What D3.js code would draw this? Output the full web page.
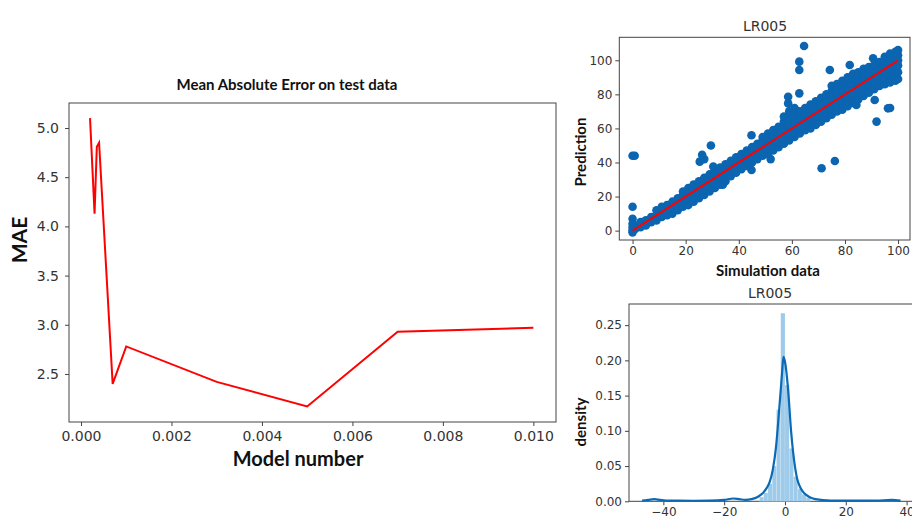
<!DOCTYPE html>
<html lang="en">
<head>
<meta charset="UTF-8">
<title>MAE and LR005</title>
<script src="https://d3js.org/d3.v7.min.js"></script>
<style>
    body { margin: 0; background: #fff; }
    svg { display: block; }
    .tick text { font-family: "DejaVu Sans", sans-serif; fill: #333; }
    .tick line { stroke: #444; }
    .frame { fill: none; stroke: #444; stroke-width: 1; }
    .lbl { font-family: Lato, "Open Sans", sans-serif; font-weight: bold; fill: #111; }
</style>
</head>
<body>
<div id="chart"></div>
<script>
// --- left chart: MAE per model ---
const modelNumbers = [0.0002, 0.0003, 0.00035, 0.0004, 0.0007, 0.001, 0.003, 0.005, 0.007, 0.01];
const maeValues = [5.10, 4.13, 4.81, 4.85, 2.40, 2.78, 2.42, 2.17, 2.93, 2.97];
const maeXTicks = [0, 0.002, 0.004, 0.006, 0.008, 0.010];
const maeYTicks = [2.5, 3.0, 3.5, 4.0, 4.5, 5.0];

// --- top right: prediction vs simulation (columns of points) ---
const scatterColumns = [
    [1, [1, 3]], [3, [2, 5]], [5, [3, 6]], [7, [5, 8]], [9, [6, 9, 12]],
    [11, [8, 11, 14]], [13, [9, 12, 15]], [15, [10, 13, 17]], [17, [12, 15, 19]],
    [19, [14, 17, 21, 23]], [21, [15, 19, 22, 25]], [23, [17, 20, 24, 27]],
    [25, [19, 22, 26, 29]], [27, [21, 24, 28, 31]], [29, [23, 26, 30, 33]],
    [31, [25, 28, 32, 35]], [33, [27, 30, 34, 37]], [35, [29, 33, 36, 39]],
    [37, [32, 35, 38, 41]], [39, [34, 37, 40, 43]], [41, [36, 39, 42, 45]],
    [43, [38, 41, 44, 47]], [45, [40, 43, 46, 49]], [47, [42, 45, 48, 51]],
    [49, [44, 47, 50, 53, 55]], [51, [45, 48, 51, 54, 57]], [53, [47, 50, 53, 56, 59]],
    [55, [49, 52, 55, 58, 61]], [57, [51, 54, 57, 60, 64, 67]], [59, [53, 56, 59, 62, 66, 70]],
    [61, [55, 58, 61, 64, 68, 72]], [63, [57, 60, 63, 66, 70]], [65, [59, 62, 65, 68, 72]],
    [67, [60, 63, 66, 70, 74]], [69, [62, 65, 69, 72, 76]], [71, [64, 67, 71, 74, 78]],
    [73, [66, 69, 73, 76, 80]], [75, [68, 71, 75, 78, 82, 85]], [77, [70, 73, 77, 80, 84, 86]],
    [79, [71, 75, 79, 82, 86, 88]], [81, [73, 77, 81, 84, 88, 90]], [83, [75, 79, 83, 86, 90, 92]],
    [85, [77, 81, 85, 88, 91, 93]], [87, [79, 83, 87, 90, 93, 95]], [89, [81, 85, 89, 92, 95, 96]],
    [91, [83, 87, 91, 94, 97]], [93, [85, 89, 93, 96, 99]], [95, [86, 90, 94, 97, 100, 102]],
    [97, [87, 91, 95, 98, 101, 104]], [99, [88, 92, 96, 99, 102, 105]], [100, [89, 93, 97, 100, 103, 106]]
];
const scatterOutliers = [
    [0, 44], [0.8, 44], [0, 14], [0, 7], [0, 4], [0, 2], [0, 0], [0, -1],
    [29.5, 50], [26.2, 44.5], [25.3, 40.5], [27, 42], [30.4, 37.6], [34, 27], [44.8, 56],
    [44.8, 35.6], [52, 42], [58.6, 78.6], [58.6, 74.7], [62.8, 80.6], [62.8, 94.3],
    [62.8, 99.2], [64.6, 108.4], [74.3, 94.3], [81.8, 97.2], [90.6, 101.2], [71.2, 36.6],
    [76.2, 40.9], [84.3, 73.8], [84.6, 76.5], [91.2, 76.7], [91.9, 64], [96.2, 71.8], [97, 72]
];
const scatterTicks = [0, 20, 40, 60, 80, 100];

// --- bottom right: error distribution ---
const histEdges = [-8.4, -7, -5.6, -4.2, -2.8, -1.4, 0, 1.4, 2.8, 4.2, 5.6, 7, 8.4];
const histHeights = [0.006, 0.012, 0.025, 0.05, 0.13, 0.267, 0.165, 0.075, 0.035, 0.018, 0.01, 0.005];
const kdeX = [-47, -45, -43, -41, -38, -30, -25, -20, -17, -15, -13, -11, -9, -8, -7, -6, -5, -4, -3, -2, -1, -0.5, 0, 1, 2, 3, 4, 5, 6, 7, 8, 10, 15, 20, 30, 35, 38];
const kdeY = [0.001, 0.002, 0.003, 0.002, 0.001, 0.0008, 0.001, 0.002, 0.004, 0.003, 0.002, 0.003, 0.006, 0.009, 0.013, 0.019, 0.028, 0.045, 0.075, 0.125, 0.18, 0.205, 0.198, 0.16, 0.1, 0.058, 0.032, 0.02, 0.013, 0.009, 0.006, 0.003, 0.001, 0.001, 0.001, 0.002, 0.001];
const densXTicks = [-40, -20, 0, 20, 40];
const densYTicks = [0, 0.05, 0.10, 0.15, 0.20, 0.25];

const svg = d3.select("#chart").append("svg")
    .attr("width", 912)
    .attr("height", 521);

svg.append("rect").attr("width", 912).attr("height", 521).attr("fill", "#fff");

function drawAxes(g, x, y, xTicks, yTicks, xFmt, yFmt, fontSize, pad) {
    const [x0, x1] = x.range();
    const [y0, y1] = y.range();
    g.append("g")
        .attr("transform", `translate(0,${y0})`)
        .call(d3.axisBottom(x).tickValues(xTicks).tickFormat(xFmt).tickSize(4).tickSizeOuter(0).tickPadding(pad))
        .call(a => a.select(".domain").remove())
        .selectAll("text").style("font-size", fontSize + "px");
    g.append("g")
        .attr("transform", `translate(${x0},0)`)
        .call(d3.axisLeft(y).tickValues(yTicks).tickFormat(yFmt).tickSize(4).tickSizeOuter(0).tickPadding(pad + 1))
        .call(a => a.select(".domain").remove())
        .selectAll("text").style("font-size", fontSize + "px");
    g.append("rect").attr("class", "frame")
        .attr("x", x0).attr("y", y1)
        .attr("width", x1 - x0).attr("height", y0 - y1);
}

// left chart
{
    const g = svg.append("g");
    const x = d3.scaleLinear().domain([-0.000265, 0.0105]).range([69, 556]);
    const y = d3.scaleLinear().domain([2.012, 5.254]).range([422, 103]);
    drawAxes(g, x, y, maeXTicks, maeYTicks, d3.format(".3f"), d3.format(".1f"), 14, 5);

    const line = d3.line().x((d, i) => x(modelNumbers[i])).y(d => y(d));
    g.append("path").datum(maeValues)
        .attr("d", line)
        .attr("fill", "none")
        .attr("stroke", "#ff0000")
        .attr("stroke-width", 2);

    g.append("text").attr("class", "lbl").attr("x", 287).attr("y", 90)
        .attr("text-anchor", "middle").style("font-size", "15px")
        .text("Mean Absolute Error on test data");
    g.append("text").attr("class", "lbl").attr("x", 298).attr("y", 466)
        .attr("text-anchor", "middle").style("font-size", "20px")
        .text("Model number");
    g.append("text").attr("class", "lbl")
        .attr("transform", "translate(27,240) rotate(-90)")
        .attr("text-anchor", "middle").style("font-size", "21px")
        .text("MAE");
}

// scatter chart
{
    const g = svg.append("g");
    const x = d3.scaleLinear().domain([-5, 104.5]).range([619.3, 910]);
    const y = d3.scaleLinear().domain([-5.5, 113.5]).range([240, 37.3]);
    drawAxes(g, x, y, scatterTicks, scatterTicks, d3.format("d"), d3.format("d"), 12, 2);

    const points = scatterColumns.flatMap(([s, preds]) => preds.map(p => [s, p])).concat(scatterOutliers);
    g.append("g").selectAll("circle")
        .data(points)
        .join("circle")
        .attr("cx", d => x(d[0]))
        .attr("cy", d => y(d[1]))
        .attr("r", 4.3)
        .attr("fill", "#0b65b1");

    g.append("line")
        .attr("x1", x(0)).attr("y1", y(0))
        .attr("x2", x(100)).attr("y2", y(100))
        .attr("stroke", "#ff0000")
        .attr("stroke-width", 2);

    g.append("text").attr("x", 765).attr("y", 31)
        .attr("text-anchor", "middle")
        .style("font-family", "DejaVu Sans, sans-serif").style("font-size", "14px").style("fill", "#333")
        .text("LR005");
    g.append("text").attr("class", "lbl").attr("x", 768).attr("y", 276)
        .attr("text-anchor", "middle").style("font-size", "15px")
        .text("Simulation data");
    g.append("text").attr("class", "lbl")
        .attr("transform", "translate(586,152) rotate(-90)")
        .attr("text-anchor", "middle").style("font-size", "15px")
        .text("Prediction");
}

// density chart
{
    const g = svg.append("g");
    const x = d3.scaleLinear().domain([-51.3, 42.3]).range([629, 913.6]);
    const y = d3.scaleLinear().domain([0, 0.28]).range([501.3, 304]);
    drawAxes(g, x, y, densXTicks, densYTicks, d3.format("d"), d3.format(".2f"), 12, 2);

    g.append("g").selectAll("rect")
        .data(histHeights)
        .join("rect")
        .attr("x", (d, i) => x(histEdges[i]))
        .attr("width", (d, i) => x(histEdges[i + 1]) - x(histEdges[i]))
        .attr("y", d => y(d))
        .attr("height", d => y(0) - y(d))
        .attr("fill", "#9dcbe9")
        .attr("stroke", "#fff")
        .attr("stroke-width", 0.4)
        .attr("stroke-opacity", 0.35);

    const kde = d3.line().curve(d3.curveMonotoneX)
        .x((d, i) => x(kdeX[i])).y(d => y(d));
    g.append("path").datum(kdeY)
        .attr("d", kde)
        .attr("fill", "none")
        .attr("stroke", "#0a6ab5")
        .attr("stroke-width", 2.2);

    g.append("text").attr("x", 770).attr("y", 298)
        .attr("text-anchor", "middle")
        .style("font-family", "DejaVu Sans, sans-serif").style("font-size", "14px").style("fill", "#333")
        .text("LR005");
    g.append("text").attr("class", "lbl")
        .attr("transform", "translate(586,422) rotate(-90)")
        .attr("text-anchor", "middle").style("font-size", "15px")
        .text("density");
}
</script>
</body>
</html>
